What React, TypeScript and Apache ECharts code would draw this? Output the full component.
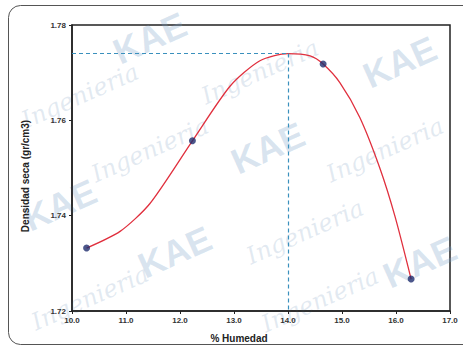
import React, { useEffect, useRef } from "react";
import * as echarts from "echarts";

const xTicks = [10, 11, 12, 13, 14, 15, 16, 17];
const yTicks = [1.72, 1.74, 1.76, 1.78];
const humedad = [10.27, 12.23, 14.65, 16.28];
const densidad = [1.7332, 1.7557, 1.7718, 1.7267];
const curveX = [10.27, 10.89, 11.44, 12.23, 12.93, 13.48, 14.0, 14.41, 14.65, 14.96, 15.33, 15.7, 15.98, 16.28];
const curveY = [1.7332, 1.7367, 1.7425, 1.7557, 1.7672, 1.7725, 1.774, 1.7735, 1.7718, 1.7679, 1.7606, 1.75, 1.7399, 1.7267];
const optHumedad = 14.0;
const maxDensidad = 1.774;
const watermarks: [string, number, number][] = [
  ["KAE", 150, 38],
  ["Ingenieria", 260, 72],
  ["Ingenieria", 80, 96],
  ["KAE", 400, 62],
  ["Ingenieria", 150, 150],
  ["KAE", 268, 148],
  ["Ingenieria", 385, 150],
  ["KAE", 60, 205],
  ["KAE", 175, 252],
  ["Ingenieria", 305, 232],
  ["KAE", 420, 262],
  ["Ingenieria", 90, 298],
  ["Ingenieria", 320, 300],
];

export default function App() {
  const ref = useRef<HTMLDivElement>(null);
  useEffect(() => {
    if (!ref.current) return;
    const chart = echarts.init(ref.current, undefined, { renderer: "svg" });
    const wm = watermarks.map(([t, x, y]) => ({
      type: "text",
      x,
      y,
      rotation: (24 * Math.PI) / 180,
      silent: true,
      z: 0,
      style: {
        text: t,
        fill: t === "KAE" ? "rgba(120,160,200,0.28)" : "rgba(140,170,200,0.25)",
        font: t === "KAE" ? "bold 36px 'Liberation Sans'" : "italic 24px 'DejaVu Serif'",
        align: "center",
        verticalAlign: "middle",
      },
    }));
    chart.setOption({
      animation: false,
      backgroundColor: "#ffffff",
      grid: { left: 72, top: 25, width: 378, height: 286, show: true, borderColor: "#222", borderWidth: 1.5, backgroundColor: "transparent" },
      xAxis: {
        type: "value",
        min: xTicks[0],
        max: xTicks[xTicks.length - 1],
        interval: 1,
        splitLine: { show: false },
        axisLine: { lineStyle: { color: "#222", width: 1.5 } },
        axisTick: { show: true, length: 3, lineStyle: { color: "#222" } },
        axisLabel: { formatter: (v: number) => v.toFixed(1), color: "#333", fontSize: 8, fontWeight: "bold", fontFamily: "Liberation Sans", margin: 5 },
      },
      yAxis: {
        type: "value",
        min: yTicks[0],
        max: yTicks[yTicks.length - 1],
        interval: 0.02,
        splitLine: { show: false },
        axisLine: { show: true, lineStyle: { color: "#222", width: 1.5 } },
        axisTick: { show: true, length: 3, lineStyle: { color: "#222" } },
        axisLabel: { formatter: (v: number) => v.toFixed(2), color: "#333", fontSize: 8, fontWeight: "bold", fontFamily: "Liberation Sans", margin: 6 },
      },
      graphic: [
        ...wm,
        {
          type: "rect",
          shape: { x: 8.5, y: 5.5, width: 470, height: 339, r: 12 },
          style: { fill: "none", stroke: "#555", lineWidth: 1 },
          silent: true,
        },
        {
          type: "text",
          x: 239,
          y: 338,
          style: { text: "% Humedad", fill: "#222", font: "bold 10px 'Liberation Sans'", align: "center", verticalAlign: "middle" },
        },
        {
          type: "text",
          x: 25,
          y: 176,
          rotation: Math.PI / 2,
          style: { text: "Densidad seca (gr/cm3)", fill: "#222", font: "bold 10px 'Liberation Sans'", align: "center", verticalAlign: "middle" },
        },
      ],
      series: [
        {
          type: "line",
          data: curveX.map((x, i) => [x, curveY[i]]),
          smooth: 0.25,
          showSymbol: false,
          lineStyle: { color: "#e0303e", width: 1.3 },
          z: 3,
          markLine: {
            silent: true,
            symbol: "none",
            label: { show: false },
            lineStyle: { color: "#3a90bd", type: [4, 3], width: 1.2 },
            data: [
              [{ coord: [xTicks[0], maxDensidad] }, { coord: [optHumedad, maxDensidad] }],
              [{ coord: [optHumedad, maxDensidad] }, { coord: [optHumedad, yTicks[0]] }],
            ],
          },
        },
        {
          type: "scatter",
          data: humedad.map((x, i) => [x, densidad[i]]),
          symbolSize: 7,
          itemStyle: { color: "#1f2d6e" },
          z: 4,
        },
      ],
    });
    return () => chart.dispose();
  }, []);
  return <div ref={ref} style={{ position: "absolute", left: 0, top: 0, width: 463, height: 352 }} />;
}
